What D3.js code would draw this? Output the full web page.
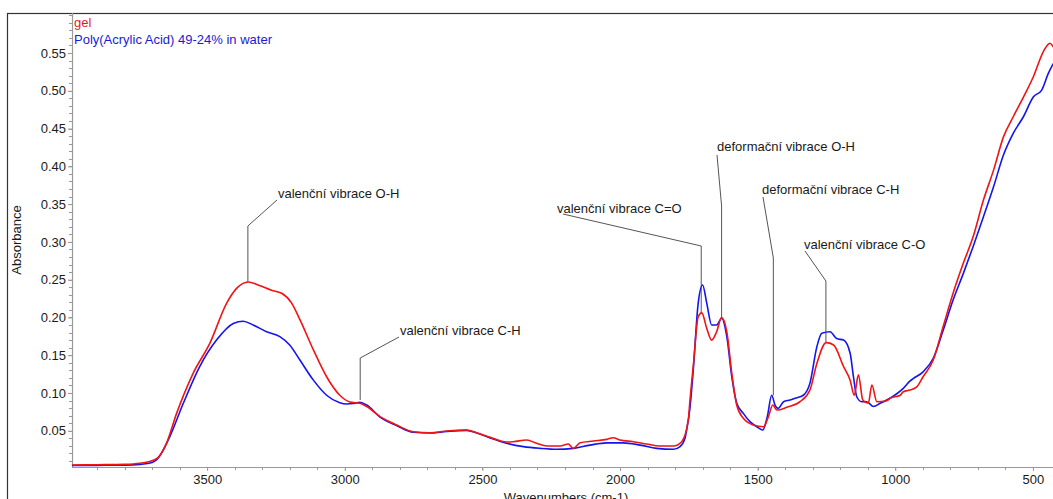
<!DOCTYPE html>
<html>
<head>
<meta charset="utf-8">
<script src="https://cdn.jsdelivr.net/npm/d3@7/dist/d3.min.js"></script>
<style>
  html, body { margin: 0; padding: 0; background: #fff; }
  svg { display: block; font-family: "Liberation Sans", Arial, sans-serif; }
</style>
</head>
<body>
<svg id="chart" width="1053" height="499"></svg>
<script>
// ---- Data ----
const gelWavenumbers = [3991,3900,3800,3744,3684,3648,3611,3551,3490,3429,3393,3351,3315,3266,3229,3193,3163,3114,3066,3018,2981,2945,2920,2872,2812,2751,2690,2630,2557,2521,2472,2412,2388,2339,2303,2266,2218,2188,2170,2145,2097,2048,2024,2000,1952,1903,1855,1806,1776,1752,1746,1739,1734,1716,1703,1685,1667,1649,1631,1612,1594,1576,1552,1516,1479,1461,1445,1430,1394,1346,1310,1285,1251,1224,1188,1164,1149,1134,1118,1098,1085,1067,1031,1019,982,971,946,922,899,862,826,790,753,717,680,643,607,571,534,498,462,438,426];
const gelAbsorbance  = [0.0046,0.0050,0.0055,0.0069,0.013,0.033,0.073,0.126,0.166,0.219,0.2385,0.247,0.243,0.236,0.232,0.219,0.197,0.157,0.1215,0.097,0.088,0.0863,0.082,0.0686,0.0576,0.0487,0.0474,0.0496,0.051,0.0474,0.0413,0.0350,0.0355,0.0377,0.0334,0.0298,0.0298,0.0324,0.0267,0.034,0.0364,0.0386,0.0408,0.0377,0.0355,0.0324,0.0298,0.0298,0.0355,0.064,0.090,0.117,0.135,0.201,0.206,0.1855,0.170,0.181,0.200,0.181,0.126,0.084,0.0664,0.0576,0.0553,0.0686,0.084,0.0774,0.081,0.0884,0.104,0.139,0.1666,0.1635,0.135,0.117,0.097,0.124,0.0907,0.0863,0.1105,0.0884,0.0897,0.093,0.097,0.1017,0.104,0.108,0.1215,0.1436,0.188,0.232,0.2716,0.307,0.355,0.395,0.439,0.466,0.492,0.519,0.552,0.563,0.558];

const paaWavenumbers = [3991,3900,3800,3744,3700,3684,3636,3587,3527,3466,3405,3369,3333,3284,3236,3200,3163,3114,3066,3018,2994,2970,2945,2920,2872,2812,2751,2690,2630,2557,2521,2472,2412,2351,2291,2230,2170,2109,2048,1988,1927,1867,1806,1782,1764,1758,1746,1734,1716,1700,1685,1667,1649,1631,1612,1594,1576,1552,1528,1503,1481,1465,1449,1437,1425,1406,1382,1364,1334,1310,1285,1267,1237,1213,1188,1164,1152,1140,1122,1104,1079,1055,1019,971,946,935,899,862,826,790,753,717,680,643,607,571,534,498,468,444,426];
const paaAbsorbance  = [0.004,0.0042,0.0045,0.0055,0.008,0.0113,0.042,0.086,0.135,0.170,0.192,0.195,0.190,0.181,0.1745,0.1635,0.1436,0.117,0.097,0.087,0.0854,0.0860,0.0876,0.084,0.0680,0.0570,0.0480,0.0470,0.0490,0.0505,0.0470,0.0405,0.0335,0.029,0.0267,0.0254,0.0267,0.031,0.034,0.034,0.031,0.0267,0.0254,0.029,0.040,0.051,0.080,0.130,0.219,0.243,0.219,0.190,0.190,0.199,0.1745,0.1215,0.0863,0.073,0.062,0.0553,0.051,0.0686,0.097,0.084,0.0797,0.0884,0.0907,0.093,0.097,0.113,0.161,0.179,0.181,0.172,0.170,0.1525,0.1215,0.095,0.0884,0.0884,0.082,0.0863,0.093,0.106,0.116,0.119,0.128,0.146,0.183,0.223,0.258,0.294,0.333,0.373,0.415,0.444,0.466,0.492,0.501,0.523,0.536];

const seriesNames = ["gel", "Poly(Acrylic Acid) 49-24% in water"];
const xTickValues = [3500, 3000, 2500, 2000, 1500, 1000, 500];
const yTickValues = [0.05, 0.10, 0.15, 0.20, 0.25, 0.30, 0.35, 0.40, 0.45, 0.50, 0.55];

// annotations: label, peak wavenumber, absorbance at end of leader, absorbance at knee
const annotationLabels = ["valenční vibrace O-H", "valenční vibrace C-H", "valenční vibrace C=O", "deformační vibrace O-H", "deformační vibrace C-H", "valenční vibrace C-O"];
const annotationWavenumbers = [3352, 2944, 1705, 1631, 1443, 1252];
const annotationEndValues = [0.247, 0.0907, 0.206, 0.200, 0.097, 0.1666];

// ---- Layout ----
const W = 1053, H = 499;
const plot = { left: 72, right: 1053, top: 13, bottom: 467 };
// text anchor positions (px) and knee positions (px) for leader lines
const annLayout = [
  { tx: 278, ty: 198, sx: 277, sy: 200, ky: 226 },
  { tx: 400, ty: 335, sx: 399, sy: 337, ky: 358 },
  { tx: 557, ty: 213, sx: 563, sy: 214, ky: 246 },
  { tx: 717, ty: 151, sx: 717, sy: 155, ky: 206 },
  { tx: 762, ty: 194, sx: 763, sy: 197, ky: 258 },
  { tx: 804, ty: 249, sx: 805, sy: 251, ky: 281 }
];

const svg = d3.select("#chart");
const x = d3.scaleLinear().domain([3991, 427]).range([plot.left, plot.right]);
const y = d3.scaleLinear().domain([0.002, 0.603]).range([plot.bottom, plot.top]);

// outer frame
svg.append("rect").attr("x", 7.5).attr("y", 13.5).attr("width", 1200).attr("height", 600)
  .attr("fill", "none").attr("stroke", "#333").attr("stroke-width", 1.2);

// axes
const axisColor = "#999";
const textColor = "#1a1a1a";
const fontSize = 13;

// y minor ticks
const yMinor = d3.range(1, 61).map(i => i / 100).filter(v => v >= 0.002 && v <= 0.603);
svg.append("g").selectAll("line").data(yMinor).join("line")
  .attr("x1", plot.left - 3).attr("x2", plot.left)
  .attr("y1", d => Math.round(y(d)) + 0.5).attr("y2", d => Math.round(y(d)) + 0.5)
  .attr("stroke", axisColor).attr("stroke-width", 1);

const yAxis = d3.axisLeft(y).tickValues(yTickValues).tickFormat(d3.format(".2f")).tickSize(4).tickPadding(2);
const gy = svg.append("g").attr("transform", `translate(${plot.left},0)`).call(yAxis);
gy.select(".domain").remove();
gy.selectAll(".tick line").attr("stroke", axisColor);
gy.selectAll(".tick text").attr("fill", textColor).style("font-size", fontSize + "px").style("font-family", "Liberation Sans, Arial, sans-serif");

// x minor ticks
const xMinor = d3.range(500, 4000, 100);
svg.append("g").selectAll("line").data(xMinor).join("line")
  .attr("x1", d => Math.round(x(d)) + 0.5).attr("x2", d => Math.round(x(d)) + 0.5)
  .attr("y1", plot.bottom).attr("y2", plot.bottom + 3)
  .attr("stroke", axisColor).attr("stroke-width", 1);

const xAxis = d3.axisBottom(x).tickValues(xTickValues).tickFormat(d3.format("d")).tickSize(4).tickPadding(4);
const gx = svg.append("g").attr("transform", `translate(0,${plot.bottom})`).call(xAxis);
gx.select(".domain").remove();
gx.selectAll(".tick line").attr("stroke", axisColor);
gx.selectAll(".tick text").attr("fill", textColor).style("font-size", fontSize + "px").style("font-family", "Liberation Sans, Arial, sans-serif");

// axis lines
svg.append("line").attr("x1", plot.left + 0.5).attr("x2", plot.left + 0.5).attr("y1", plot.top).attr("y2", plot.bottom)
  .attr("stroke", axisColor).attr("stroke-width", 1.2);
svg.append("line").attr("x1", plot.left).attr("x2", plot.right).attr("y1", plot.bottom + 0.5).attr("y2", plot.bottom + 0.5)
  .attr("stroke", axisColor).attr("stroke-width", 1.2);

// axis titles
svg.append("text").attr("x", 566).attr("y", 502).attr("text-anchor", "middle")
  .attr("fill", textColor).style("font-size", fontSize + "px").text("Wavenumbers (cm-1)");
svg.append("text").attr("transform", "translate(21,240) rotate(-90)").attr("text-anchor", "middle")
  .attr("fill", textColor).style("font-size", fontSize + "px").text("Absorbance");

// leader lines and annotation labels
const annG = svg.append("g");
annotationLabels.forEach((label, i) => {
  const L = annLayout[i];
  const px = x(annotationWavenumbers[i]);
  const endY = y(annotationEndValues[i]);
  annG.append("polyline")
    .attr("points", `${L.sx},${L.sy} ${px},${L.ky} ${px},${endY}`)
    .attr("fill", "none").attr("stroke", "#555").attr("stroke-width", 1);
  annG.append("text").attr("x", L.tx).attr("y", L.ty)
    .attr("fill", textColor).style("font-size", fontSize + "px").text(label);
});

// spectra
const line = d3.line().x(d => x(d[0])).y(d => y(d[1])).curve(d3.curveMonotoneX);
const paa = paaWavenumbers.map((w, i) => [w, paaAbsorbance[i]]);
const gel = gelWavenumbers.map((w, i) => [w, gelAbsorbance[i]]);
svg.append("path").datum(paa).attr("d", line).attr("fill", "none").attr("stroke", "#1414f0").attr("stroke-width", 1.6);
svg.append("path").datum(gel).attr("d", line).attr("fill", "none").attr("stroke", "#f01414").attr("stroke-width", 1.6);

// legend
svg.append("text").attr("x", 74).attr("y", 27).attr("fill", "#e31b1b").style("font-size", fontSize + "px").text(seriesNames[0]);
svg.append("text").attr("x", 74).attr("y", 44).attr("fill", "#1a1ad6").style("font-size", fontSize + "px").text(seriesNames[1]);
</script>
</body>
</html>
